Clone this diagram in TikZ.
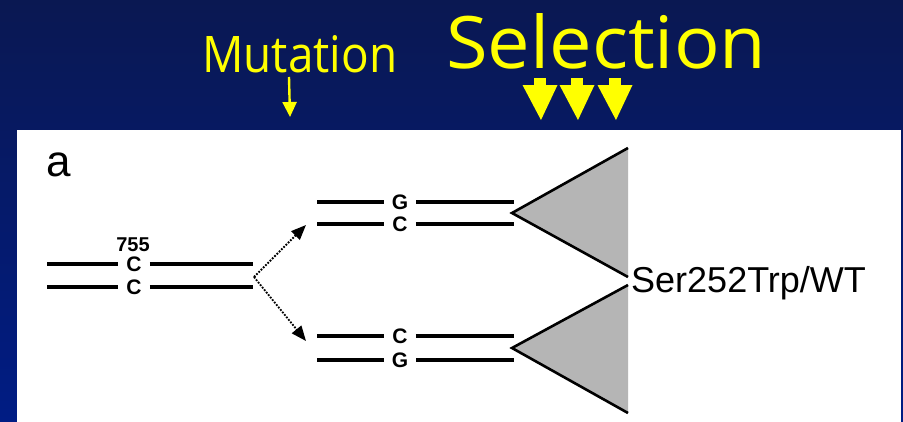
\documentclass[tikz,border=0pt]{standalone}
\usepackage{fontspec}
\setmainfont{Liberation Sans}
\newfontfamily\titlefont{Open Sans}
\usetikzlibrary{arrows.meta}
\definecolor{navytop}{HTML}{0A1852}
\definecolor{navybot}{HTML}{001C84}
\definecolor{hiyellow}{HTML}{FFFF00}
\definecolor{fangray}{HTML}{B5B5B5}

\begin{document}
\begin{tikzpicture}[x=1pt,y=-1pt,
  strand/.style={line width=3.4pt,black},
  basepair/.style={font=\bfseries\fontsize{21}{21}\selectfont,inner xsep=8pt,inner ysep=0pt},
  branch/.style={line width=1.8pt,dash pattern=on 1.8pt off 1.4pt,
    -{Triangle[length=15pt,width=12pt]}},
  fan/.style={fill=fangray},
  fanedge/.style={line width=2.6pt,black,line join=miter},
  title/.style={anchor=base west,inner sep=0pt,text=hiyellow},
  selarrow/.style={fill=hiyellow}
]
\useasboundingbox (0,0) rectangle (903,421);

% slide background and white figure panel
\shade[top color=navytop,bottom color=navybot] (0,0) rectangle (903,421);
\fill[white] (17,130) rectangle (901,430);

% headings
\node[title] (mut) at (202,72) {\resizebox{195pt}{37pt}{\titlefont Mutation}};
\node[title] (sel) at (446,68) {\resizebox{320pt}{55pt}{\titlefont Selection}};

% thin arrow under "Mutation"
\coordinate (mutfrom) at (289,77);
\coordinate (mutto) at (290,117);
\draw[line width=2.4pt,hiyellow,-{Triangle[length=15pt,width=14pt]}] (mutfrom) -- (mutto);

% three block arrows under "Selection"
\foreach \cx in {540,577,615} {
  \fill[selarrow] (\cx-6,78) rectangle (\cx+6,87);
  \fill[selarrow] (\cx-17.5,85) -- (\cx+17.5,85) -- (\cx+1,120) -- cycle;
}

% panel letter
\node[anchor=base west,inner sep=0pt,font=\fontsize{44}{44}\selectfont] (panel) at (46,176) {a};

% ancestral duplex
\node[font=\bfseries\fontsize{20}{20}\selectfont] (pos) at (133,244.5) {755};
\coordinate (ls1) at (47,264);
\coordinate (le1) at (253,264);
\coordinate (ls2) at (47,287);
\coordinate (le2) at (253,287);
\node[basepair] (c1) at (134,264) {C};
\node[basepair] (c2) at (134,287) {C};
\draw[strand] (ls1) -- (c1); \draw[strand] (c1) -- (le1);
\draw[strand] (ls2) -- (c2); \draw[strand] (c2) -- (le2);

% mutation fork
\coordinate (fork) at (254,277);
\coordinate (tipup) at (306,225);
\coordinate (tipdown) at (306,341);
\draw[branch] (fork) -- (tipup);
\draw[branch] (fork) -- (tipdown);

% upper daughter duplex
\coordinate (us1) at (317,202);
\coordinate (ue1) at (514,202);
\coordinate (us2) at (317,224);
\coordinate (ue2) at (514,224);
\node[basepair] (g3) at (400,202) {G};
\node[basepair] (c3) at (400,224) {C};
\draw[strand] (us1) -- (g3); \draw[strand] (g3) -- (ue1);
\draw[strand] (us2) -- (c3); \draw[strand] (c3) -- (ue2);

% lower daughter duplex
\coordinate (ds1) at (317,336);
\coordinate (de1) at (514,336);
\coordinate (ds2) at (317,360);
\coordinate (de2) at (514,360);
\node[basepair] (c4) at (400,336) {C};
\node[basepair] (g4) at (400,360) {G};
\draw[strand] (ds1) -- (c4); \draw[strand] (c4) -- (de1);
\draw[strand] (ds2) -- (g4); \draw[strand] (g4) -- (de2);

% expansion fans
\coordinate (ua) at (512,213);
\coordinate (ut) at (628,148);
\coordinate (ub) at (628,277);
\coordinate (da) at (512,348);
\coordinate (dt) at (628,285);
\coordinate (db) at (628,413);
\fill[fan] (ut) -- (ua) -- (ub) -- cycle;
\fill[fan] (dt) -- (da) -- (db) -- cycle;
\draw[fanedge] (ut) -- (ua) -- (ub);
\draw[fanedge] (dt) -- (da) -- (db);

% genotype label
\node[anchor=base west,inner sep=0pt,font=\fontsize{36}{36}\selectfont] (geno) at (631,292) {Ser252Trp/WT};
\end{tikzpicture}
\end{document}
